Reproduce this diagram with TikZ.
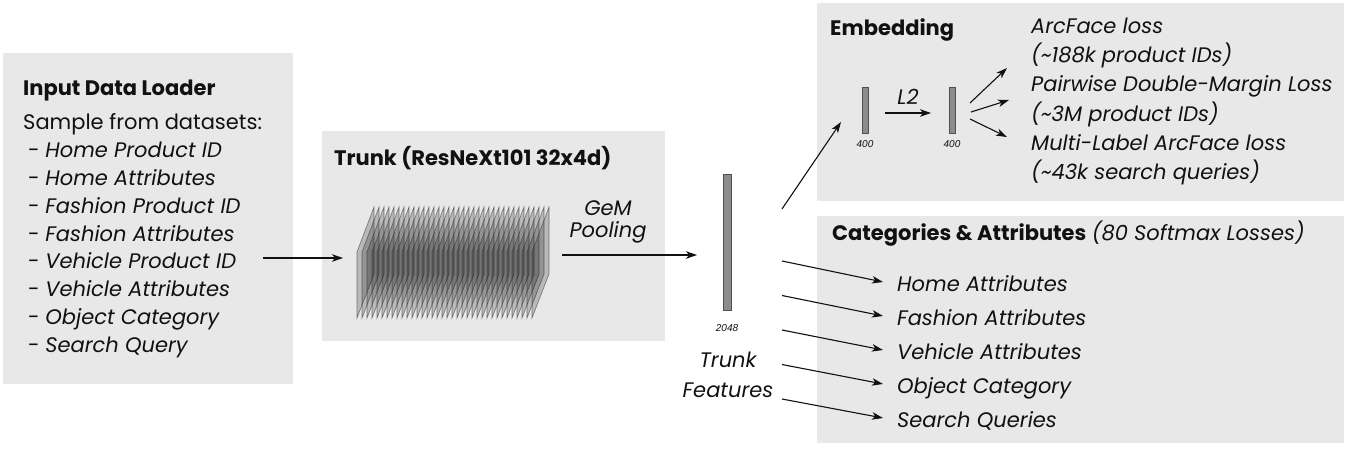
\documentclass[tikz,border=0pt]{standalone}
\usepackage{fontspec}
\setmainfont{Poppins}
\newfontfamily\tinyfont{Liberation Sans}
\usetikzlibrary{arrows.meta}
\definecolor{panel}{HTML}{E8E8E8}
\definecolor{bargray}{HTML}{8C8C8C}
\definecolor{bardraw}{HTML}{505050}
\definecolor{ink}{HTML}{111111}
\newcommand{\mainsize}{\fontsize{21}{25}\selectfont}
\begin{document}
\begin{tikzpicture}[x=1pt,y=-1pt, font=\mainsize, text=ink,
  panelbox/.style={fill=panel, draw=none},
  txt/.style={anchor=base west, inner sep=0pt},
  ctxt/.style={anchor=base, inner sep=0pt},
  boldtxt/.style={txt, font=\mainsize\bfseries},
  ittxt/.style={txt, font=\mainsize\itshape},
  citxt/.style={ctxt, font=\mainsize\itshape},
  arr/.style={draw=ink, line width=1.1pt, -{Stealth[length=11pt,width=7.5pt,inset=3pt]}},
  featbar/.style={fill=bargray, draw=bardraw, line width=0.9pt},
  dimlabel/.style={font=\tinyfont\itshape\fontsize{10}{11}\selectfont, inner sep=0pt},
  plate/.style={fill=black, fill opacity=0.2, draw=black!85, draw opacity=0.55, line width=0.6pt}
]
\useasboundingbox (0,0) rectangle (1353,450);
\fill[white] (0,0) rectangle (1353,450);

% panels
\path[panelbox] (3,53) rectangle (293,384);
\path[panelbox] (322,131) rectangle (665,341);
\path[panelbox] (817,3) rectangle (1344,201);
\path[panelbox] (817,216) rectangle (1344,443);

% input data loader
\node[boldtxt] (intitle) at (23,95) {Input Data Loader};
\node[txt] (insample) at (23,129.5) {Sample from datasets:};
\foreach \t [count=\i] in {Home Product ID, Home Attributes, Fashion Product ID, Fashion Attributes, Vehicle Product ID, Vehicle Attributes, Object Category, Search Query}
  \node[txt] (in\i) at (28,{157.5+27.85*(\i-1)}) {-\ \textit{\t}};

% trunk
\node[boldtxt] (trtitle) at (334,165) {Trunk (ResNeXt101 32x4d)};
\foreach \i in {0,...,35} {
  \pgfmathsetmacro\px{357+5*\i}
  \path[plate] (\px,318) -- (\px,252) -- (\px+17,207) -- (\px+17,274) -- cycle;
}
\node[citxt] (gem) at (608,215.5) {GeM};
\node[citxt] (pool) at (608,237.5) {Pooling};

% trunk features
\path[featbar] (723,174) rectangle (731,310);
\node[dimlabel] (n2048) at (727,328) {2048};
\node[citxt] (tf1) at (728,367.5) {Trunk};
\node[citxt] (tf2) at (728,397.5) {Features};

% embedding
\node[boldtxt] (emtitle) at (830,35.5) {Embedding};
\path[featbar] (862,87) rectangle (868,133);
\path[featbar] (949,87) rectangle (955,133);
\node[dimlabel] (e400a) at (865,144) {400};
\node[dimlabel] (e400b) at (952,144) {400};
\node[citxt] (l2) at (908,104) {L2};
\foreach \t [count=\i] in {ArcFace loss, (\textasciitilde 188k product IDs), Pairwise Double-Margin Loss, (\textasciitilde 3M product IDs), Multi-Label ArcFace loss, (\textasciitilde 43k search queries)}
  \node[ittxt] (em\i) at (1031,{33.5+29.2*(\i-1)}) {\t};

% categories
\node[txt] (cattitle) at (832,240.5) {\textbf{Categories \& Attributes} \textit{(80 Softmax Losses)}};
\foreach \t [count=\i] in {Home Attributes, Fashion Attributes, Vehicle Attributes, Object Category, Search Queries}
  \node[ittxt] (cat\i) at (897,{291+34*(\i-1)}) {\t};

% connector end points
\coordinate (inA) at (263,258);
\coordinate (trA) at (343,258);
\coordinate (gemA) at (562,255);
\coordinate (gemB) at (697,255);
\coordinate (tfE) at (782,209);
\coordinate (emIn) at (841,122);
\coordinate (l2A) at (885,113);
\coordinate (l2B) at (931,113);
\coordinate (o1a) at (970,103); \coordinate (o1b) at (1007,68);
\coordinate (o2a) at (971,112); \coordinate (o2b) at (1009,100);
\coordinate (o3a) at (970,119); \coordinate (o3b) at (1007,137);

\draw[arr] (inA) -- (trA);
\draw[arr] (gemA) -- (gemB);
\draw[arr] (tfE) -- (emIn);
\draw[arr] (l2A) -- (l2B);
\draw[arr] (o1a) -- (o1b);
\draw[arr] (o2a) -- (o2b);
\draw[arr] (o3a) -- (o3b);
\foreach \i in {1,...,5} {
  \coordinate (cs\i) at (782,{261+34.5*(\i-1)});
  \coordinate (ce\i) at (883,{282+34*(\i-1)});
  \draw[arr] (cs\i) -- (ce\i);
}
\end{tikzpicture}
\end{document}
